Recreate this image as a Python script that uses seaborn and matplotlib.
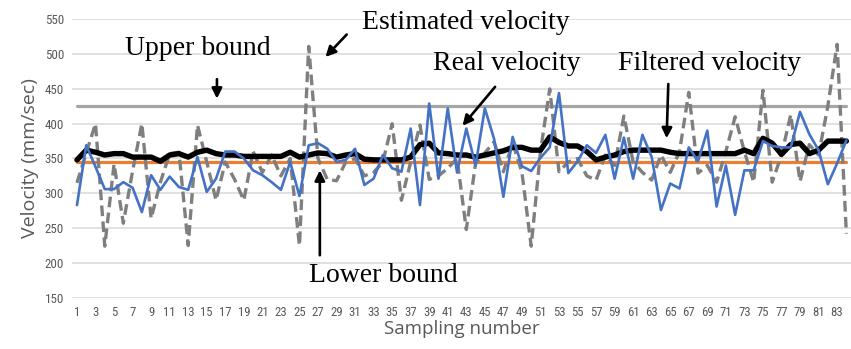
import numpy as np
import pandas as pd
import matplotlib
matplotlib.use("Agg")
import matplotlib.pyplot as plt
import seaborn as sns

# Sampling indices
samples = list(range(1, 85))

# Velocity series (mm/sec)
estimated_velocity = [315, 358, 400, 224, 342, 257, 332, 400, 264, 316, 357, 359, 225, 398,
                      345, 290, 345, 320, 290, 360, 330, 355, 325, 350, 225, 511, 350, 320,
                      318, 345, 350, 325, 330, 345, 400, 290, 345, 398, 320, 325, 336, 350,
                      248, 343, 358, 374, 331, 372, 330, 224, 360, 450, 331, 345, 350, 325,
                      319, 355, 340, 411, 345, 330, 319, 355, 330, 360, 445, 329, 340, 316,
                      360, 410, 360, 316, 448, 316, 355, 413, 317, 370, 355, 425, 514, 242]
real_velocity = [283, 369, 338, 306, 306, 316, 308, 273, 326, 305, 324, 309, 305, 352,
                 302, 321, 360, 360, 350, 333, 326, 316, 305, 345, 296, 369, 372, 364,
                 345, 348, 364, 312, 321, 355, 336, 331, 393, 283, 429, 321, 422, 330,
                 393, 340, 422, 378, 295, 381, 339, 332, 351, 366, 444, 329, 346, 369,
                 358, 384, 321, 380, 321, 384, 352, 276, 314, 307, 366, 346, 390, 281,
                 340, 269, 333, 333, 375, 368, 366, 366, 417, 385, 362, 313, 343, 376]
filtered_velocity = [348, 362, 359, 355, 357, 357, 352, 352, 352, 346, 355, 357, 352, 359,
                     362, 357, 355, 355, 353, 353, 353, 353, 353, 359, 352, 355, 358, 357,
                     352, 355, 357, 349, 348, 348, 348, 348, 352, 370, 372, 358, 357, 355,
                     355, 352, 355, 358, 361, 366, 366, 362, 362, 381, 373, 368, 368, 360,
                     348, 352, 355, 360, 362, 362, 362, 362, 359, 357, 357, 357, 357, 357,
                     357, 357, 362, 357, 379, 372, 356, 370, 372, 357, 362, 375, 375, 375]
upper_bound = 425
lower_bound = 345

y_ticks = list(range(150, 551, 50))
x_ticks = list(range(1, 84, 2))

df = pd.DataFrame({
    "sample": samples,
    "estimated": estimated_velocity,
    "real": real_velocity,
    "filtered": filtered_velocity,
    "upper": [upper_bound] * len(samples),
    "lower": [lower_bound] * len(samples),
})

sns.set_theme(style="white")
plt.rcParams["font.family"] = ["DejaVu Sans"]

fig = plt.figure(figsize=(8.51, 3.49), dpi=100)
ax = fig.add_axes([0.085, 0.147, 0.915, 0.7977])

grid_col = "#D9D9D9"
for yv in y_ticks:
    ax.axhline(yv, color=grid_col, lw=1.1, zorder=0)

sns.lineplot(data=df, x="sample", y="upper", ax=ax, color="#A5A5A5", lw=2.3, zorder=2)
sns.lineplot(data=df, x="sample", y="lower", ax=ax, color="#ED7D31", lw=2.3, zorder=2)
sns.lineplot(data=df, x="sample", y="estimated", ax=ax, color="#7F7F7F", lw=2.4,
             zorder=3, dashes=False)
ax.lines[-1].set_dashes((3.2, 1.6))
sns.lineplot(data=df, x="sample", y="filtered", ax=ax, color="#000000", lw=3.9, zorder=4)
sns.lineplot(data=df, x="sample", y="real", ax=ax, color="#4472C4", lw=1.9, zorder=5)

ax.set_xlim(0.5, 84.5)
ax.set_ylim(150, 550)
ax.set_yticks(y_ticks)
ax.set_xticks(x_ticks)
tick_font = ["DejaVu Sans Condensed", "Liberation Sans Narrow", "Roboto Condensed", "DejaVu Sans"]
ax.set_xticklabels([str(t) for t in x_ticks], fontsize=9.2, color="#595959",
                   family=tick_font, stretch="condensed")
ax.set_yticklabels([str(t) for t in y_ticks], fontsize=9.4, color="#595959",
                   family=tick_font, stretch="condensed")
ax.tick_params(axis="both", length=0, pad=6)
for s in ax.spines.values():
    s.set_visible(False)

label_font = ["Open Sans", "DejaVu Sans"]
ax.set_xlabel("Sampling number", fontsize=13.5, color="#595959", family=label_font, labelpad=1)
ax.set_ylabel("Velocity (mm/sec)", fontsize=14, color="#595959", family=label_font, labelpad=4)

serif = ["Liberation Serif", "DejaVu Serif"]
arrow = dict(arrowstyle="-|>", color="black", lw=1.9, mutation_scale=15)

def note(text, tx, ty, ax0, ay0, ax1, ay1):
    ax.text(tx, ty, text, ha="center", va="center", fontsize=20, family=serif,
            color="black", clip_on=False, zorder=6)
    ax.annotate("", xy=(ax1, ay1), xytext=(ax0, ay0), arrowprops=arrow,
                annotation_clip=False, zorder=6)

note("Upper bound", 14.0, 508, 16.1, 468, 16.1, 432)
note("Estimated velocity", 43.0, 546, 30.3, 531, 27.6, 493)
note("Real velocity", 47.4, 487, 46.3, 456, 42.4, 394)
note("Filtered velocity", 69.2, 487, 64.8, 461, 64.6, 375)
note("Lower bound", 34.0, 182, 27.2, 207, 27.2, 337)

fig.savefig("out.png", dpi=100)
